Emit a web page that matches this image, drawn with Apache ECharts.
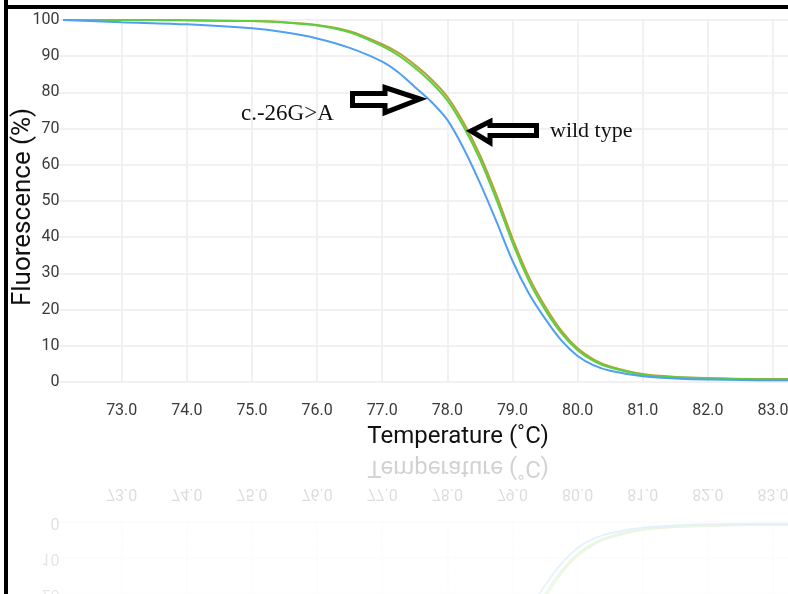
<!DOCTYPE html>
<html>
<head>
<meta charset="utf-8">
<script src="https://cdn.jsdelivr.net/npm/echarts@6/dist/echarts.min.js"></script>
<style>
  html, body { margin: 0; padding: 0; background: #fff; }
  #wrap { position: relative; width: 788px; height: 594px; overflow: hidden; }
  #chart { position: absolute; left: 0; top: 0; width: 788px; height: 594px; }
  #mirror {
    position: absolute; left: 0; top: 452px; width: 788px; height: 142px; overflow: hidden;
    -webkit-mask-image: linear-gradient(to bottom, rgba(0,0,0,1), rgba(0,0,0,0.55));
    mask-image: linear-gradient(to bottom, rgba(0,0,0,1), rgba(0,0,0,0.55));
  }
  #mirrorChart {
    position: absolute; left: 0; top: -452px; width: 788px; height: 594px;
    transform-origin: 0 452px; transform: scaleY(-1); opacity: 0.2;
  }
</style>
</head>
<body>
<div id="wrap">
  <div id="chart"></div>
  <div id="mirror"><div id="mirrorChart"></div></div>
</div>
<script>
// temperatures (°C) sampled along the melt curves
const temps = [72.1, 73, 74, 75, 75.5, 76, 76.5, 77, 77.25, 77.5, 77.75, 78, 78.25, 78.5, 78.75,
  79, 79.25, 79.5, 79.75, 80, 80.25, 80.5, 81, 81.5, 82, 83, 83.3]
// c.-26G>A (blue)
const mutant = [100, 99.4, 98.8, 97.7, 96.6, 94.9, 92.3, 88.5, 85.5, 81.5, 77.5, 72.4, 64.5, 55, 44.5,
  33.5, 24.5, 17.5, 11.5, 7.2, 4.6, 3.1, 1.6, 1.0, 0.7, 0.5, 0.5]
// wild type (green)
const wildA = [100, 100, 99.9, 99.7, 99.3, 98.5, 96.6, 92.8, 90.2, 86.8, 82.8, 77.8, 70.5, 61.5, 50.5,
  38.5, 28, 20, 13.5, 8.8, 5.8, 4.0, 2.0, 1.3, 1.0, 0.7, 0.7]
// wild type (olive, mostly hidden under green)
const wildB = [100, 100, 99.9, 99.7, 99.4, 98.6, 96.9, 93.3, 90.9, 87.6, 83.7, 78.8, 71.6, 62.7, 51.8,
  39.7, 29.1, 20.9, 14.2, 9.3, 6.2, 4.3, 2.2, 1.4, 1.1, 0.8, 0.8]

const labelFont = 'Roboto, "Noto Sans", sans-serif'

function pairs(vals) {
  return temps.map((t, i) => [t, vals[i]])
}

function line(name, vals, color, z) {
  return {
    name: name,
    type: 'line',
    data: pairs(vals),
    smooth: 0.3,
    symbol: 'none',
    z: z,
    lineStyle: { width: 2, color: color },
  }
}

function arrow(points) {
  return {
    type: 'polygon',
    shape: { points: points },
    style: { fill: '#fff', stroke: '#000', lineWidth: 5, lineJoin: 'miter' },
    z: 100,
  }
}

function note(text, x, y, size) {
  return {
    type: 'text',
    z: 100,
    style: {
      text: text, x: x, y: y,
      font: size + 'px "Liberation Serif", "DejaVu Serif", serif',
      fill: '#111', textVerticalAlign: 'middle',
    },
  }
}

function buildOption(withGraphic) {
  return {
    backgroundColor: withGraphic ? '#fff' : 'transparent',
    animation: false,
    grid: { left: 56.6, top: 20, width: 803, height: 362, outerBoundsMode: 'none', containLabel: false },
    xAxis: {
      type: 'value',
      min: 72,
      max: 84.33,
      interval: 1,
      name: 'Temperature (˚C)',
      nameLocation: 'middle',
      nameGap: 43,
      nameMoveOverlap: false,
      nameTextStyle: { fontFamily: labelFont, fontSize: 24, color: '#111' },
      axisLine: { show: false },
      axisTick: { show: false },
      axisLabel: {
        margin: 21,
        showMinLabel: false,
        fontFamily: labelFont, fontSize: 16, color: '#3a3a3a',
        formatter: v => (v % 1 === 0 && v > 72 ? v.toFixed(1) : ''),
      },
      splitLine: { showMinLine: false, lineStyle: { color: '#ededed', width: 1.5 } },
    },
    yAxis: {
      type: 'value',
      min: 0,
      max: 100,
      interval: 10,
      name: 'Fluorescence (%)',
      nameLocation: 'middle',
      nameGap: 20,
      nameMoveOverlap: false,
      nameTextStyle: { fontFamily: labelFont, fontSize: 26, color: '#111', padding: [0, 12, 0, 0] },
      axisLine: { show: false },
      axisTick: { show: false },
      axisLabel: { margin: -3, fontFamily: labelFont, fontSize: 16, color: '#3a3a3a' },
      splitLine: { lineStyle: { color: '#ededed', width: 1.5 } },
    },
    series: [
      line('wild type 2', wildB, '#b4a233', 2),
      line('wild type', wildA, '#5ccf42', 3),
      line('c.-26G>A', mutant, '#509ff0', 4),
    ],
    graphic: withGraphic ? [
      arrow([[352.5, 93.5], [385, 93.5], [385, 87.5], [420, 99], [385, 112.5], [385, 105.5], [352.5, 105.5]]),
      arrow([[536.5, 125.5], [490, 125.5], [490, 121.5], [471, 131], [490, 142.5], [490, 135.5], [536.5, 135.5]]),
      note('c.-26G>A', 241, 114, 23),
      note('wild type', 550, 131, 22),
      { type: 'rect', z: 200, shape: { x: 4, y: 0, width: 4, height: 594 }, style: { fill: '#000' } },
      { type: 'rect', z: 200, shape: { x: 4, y: 5, width: 784, height: 4 }, style: { fill: '#000' } },
    ] : [],
  }
}

const chart = echarts.init(document.getElementById('chart'))
chart.setOption(buildOption(true))
const mirror = echarts.init(document.getElementById('mirrorChart'))
mirror.setOption(buildOption(false))
</script>
</body>
</html>
